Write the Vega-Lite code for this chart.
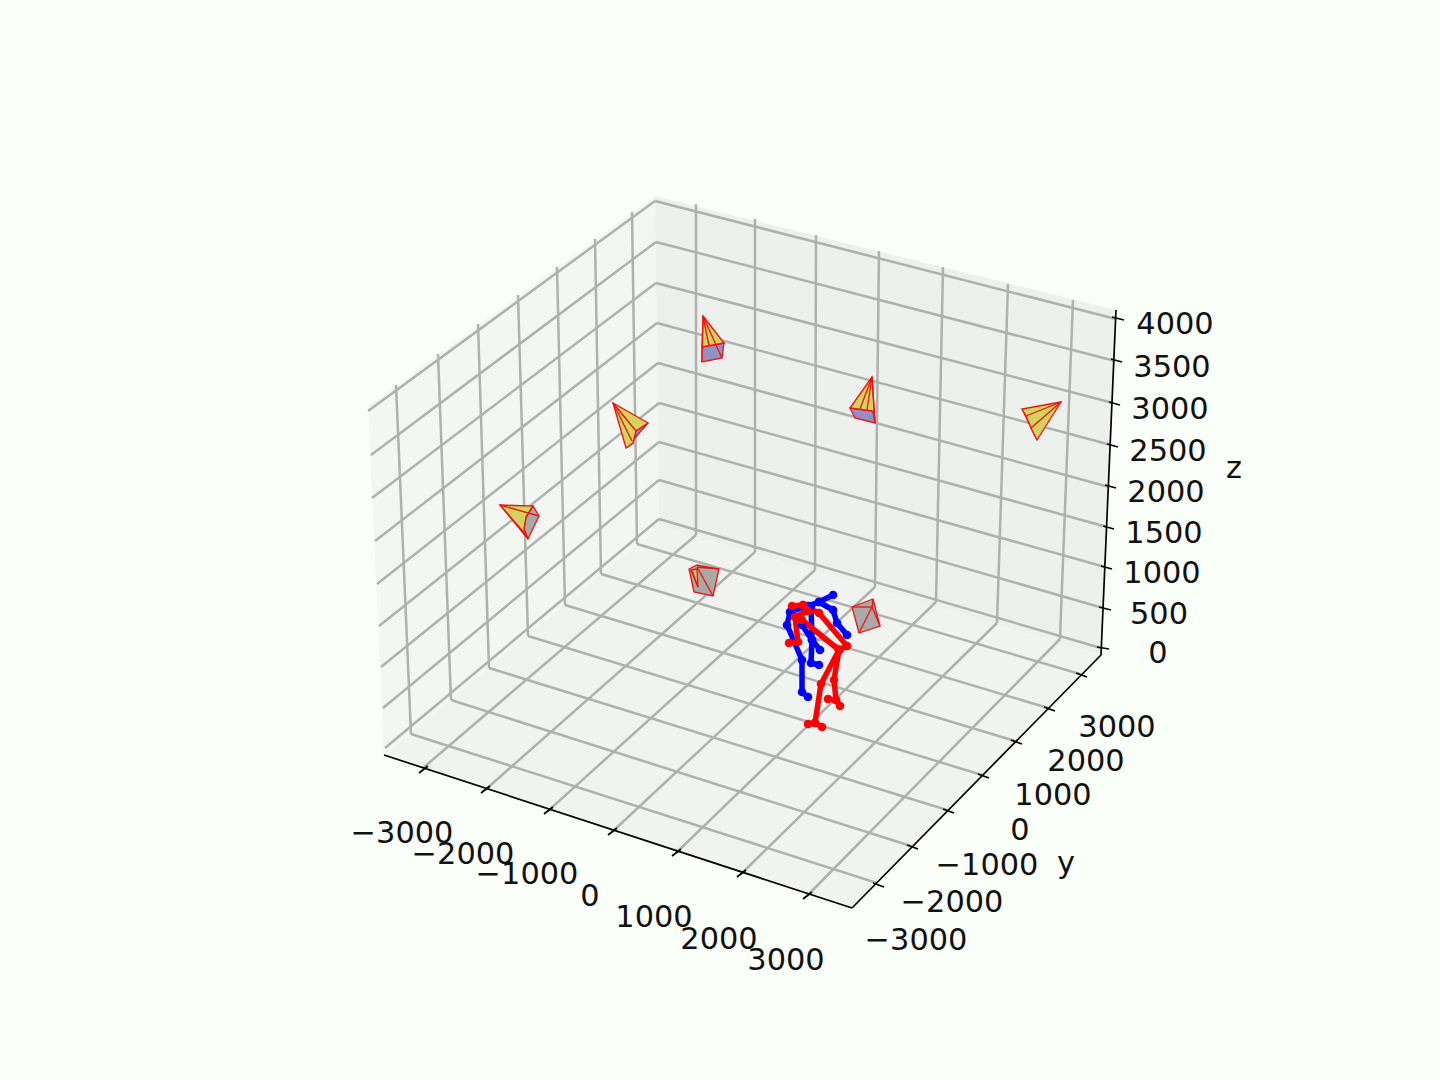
{"$schema":"https://vega.github.io/schema/vega-lite/v6.json","width":1440,"height":1080,"autosize":{"type":"fit","contains":"padding"},"padding":0,"background":"#fbfffa","view":{"stroke":null,"fill":null},
"datasets":{
"panes":[
{"id":"left","s":0,"x":368,"y":406,"f":"left"},{"id":"left","s":1,"x":655,"y":196,"f":"left"},{"id":"left","s":2,"x":659,"y":526,"f":"left"},{"id":"left","s":3,"x":384,"y":755,"f":"left"},
{"id":"back","s":0,"x":655,"y":196,"f":"back"},{"id":"back","s":1,"x":1116,"y":310,"f":"back"},{"id":"back","s":2,"x":1101,"y":655,"f":"back"},{"id":"back","s":3,"x":659,"y":526,"f":"back"},
{"id":"floor","s":0,"x":384,"y":755,"f":"floor"},{"id":"floor","s":1,"x":659,"y":526,"f":"floor"},{"id":"floor","s":2,"x":1101,"y":655,"f":"floor"},{"id":"floor","s":3,"x":852,"y":908,"f":"floor"}],
"grid":[
{"x":385,"y":748,"x2":659,"y2":519},{"x":659,"y":519,"x2":1101,"y2":648},
{"x":383,"y":708,"x2":659,"y2":480},{"x":659,"y":480,"x2":1103,"y2":608},
{"x":381,"y":667,"x2":659,"y2":442},{"x":659,"y":442,"x2":1105,"y2":567},
{"x":379,"y":626,"x2":659,"y2":403},{"x":659,"y":403,"x2":1107,"y2":527},
{"x":377,"y":584,"x2":658,"y2":363},{"x":658,"y":363,"x2":1109,"y2":487},
{"x":375,"y":541,"x2":657,"y2":323},{"x":657,"y":323,"x2":1111,"y2":445},
{"x":372,"y":498,"x2":656,"y2":283},{"x":656,"y":283,"x2":1113,"y2":403},
{"x":371,"y":455,"x2":656,"y2":242},{"x":656,"y":242,"x2":1115,"y2":361},
{"x":368,"y":411,"x2":655,"y2":201},{"x":655,"y":201,"x2":1116,"y2":319},
{"x":396,"y":385,"x2":411,"y2":734},{"x":438,"y":354,"x2":451,"y2":700},{"x":478,"y":324,"x2":489,"y2":668},{"x":518,"y":295,"x2":528,"y2":636},{"x":557,"y":267,"x2":565,"y2":605},{"x":595,"y":239,"x2":601,"y2":574},{"x":632,"y":212,"x2":637,"y2":544},
{"x":696,"y":204,"x2":696,"y2":535},{"x":755,"y":219,"x2":755,"y2":552},{"x":816,"y":235,"x2":815,"y2":570},{"x":879,"y":251,"x2":875,"y2":587},{"x":943,"y":267,"x2":936,"y2":602},{"x":1008,"y":284,"x2":997,"y2":623},{"x":1073,"y":300,"x2":1060,"y2":639},
{"x":411,"y":734,"x2":877,"y2":883},{"x":451,"y":700,"x2":911,"y2":846},{"x":489,"y":668,"x2":947,"y2":810},{"x":528,"y":636,"x2":982,"y2":775},{"x":565,"y":605,"x2":1015,"y2":741},{"x":601,"y":574,"x2":1048,"y2":708},{"x":637,"y":544,"x2":1080,"y2":674},
{"x":423,"y":768,"x2":696,"y2":535},{"x":485,"y":790,"x2":755,"y2":552},{"x":548,"y":811,"x2":815,"y2":570},{"x":612,"y":832,"x2":875,"y2":587},{"x":676,"y":853,"x2":936,"y2":602},{"x":741,"y":874,"x2":997,"y2":623},{"x":807,"y":896,"x2":1060,"y2":639}],
"axes":[
{"x":384,"y":755,"x2":852,"y2":908},{"x":852,"y":908,"x2":1101,"y2":655},{"x":1101,"y":655,"x2":1116,"y2":310},
{"x":419,"y":773,"x2":428,"y2":766},{"x":481,"y":793,"x2":490,"y2":786},{"x":544,"y":814,"x2":553,"y2":807},{"x":608,"y":835,"x2":617,"y2":828},{"x":672,"y":856,"x2":681,"y2":849},{"x":737,"y":877,"x2":746,"y2":870},{"x":803,"y":899,"x2":812,"y2":892},
{"x":873,"y":883,"x2":884,"y2":887},{"x":907,"y":845,"x2":918,"y2":849},{"x":943,"y":809,"x2":954,"y2":813},{"x":978,"y":774,"x2":989,"y2":778},{"x":1011,"y":740,"x2":1022,"y2":744},{"x":1044,"y":707,"x2":1055,"y2":711},{"x":1076,"y":673,"x2":1087,"y2":677},
{"x":1097,"y":647,"x2":1109,"y2":649},{"x":1099,"y":607,"x2":1111,"y2":610},{"x":1101,"y":566,"x2":1112,"y2":569},{"x":1103,"y":526,"x2":1114,"y2":529},{"x":1105,"y":485,"x2":1116,"y2":488},{"x":1107,"y":444,"x2":1118,"y2":447},{"x":1109,"y":402,"x2":1120,"y2":405},{"x":1111,"y":359,"x2":1122,"y2":362},{"x":1112,"y":317,"x2":1124,"y2":320}],
"faces":[
{"id":"a1","s":0,"x":702,"y":347,"k":"blue"},{"id":"a1","s":1,"x":724,"y":343,"k":"blue"},{"id":"a1","s":2,"x":722,"y":358,"k":"blue"},{"id":"a1","s":3,"x":702,"y":362,"k":"blue"},
{"id":"a2","s":0,"x":703,"y":316,"k":"yellow"},{"id":"a2","s":1,"x":724,"y":343,"k":"yellow"},{"id":"a2","s":2,"x":702,"y":347,"k":"yellow"},
{"id":"b1","s":0,"x":850,"y":408,"k":"blue"},{"id":"b1","s":1,"x":855,"y":418,"k":"blue"},{"id":"b1","s":2,"x":875,"y":423,"k":"blue"},{"id":"b1","s":3,"x":873,"y":411,"k":"blue"},
{"id":"b2","s":0,"x":872,"y":377,"k":"yellow"},{"id":"b2","s":1,"x":850,"y":408,"k":"yellow"},{"id":"b2","s":2,"x":873,"y":411,"k":"yellow"},{"id":"b2","s":3,"x":875,"y":423,"k":"yellow"},
{"id":"c1","s":0,"x":1022,"y":409,"k":"blue"},{"id":"c1","s":1,"x":1037,"y":440,"k":"blue"},{"id":"c1","s":2,"x":1032,"y":430,"k":"blue"},{"id":"c1","s":3,"x":1026,"y":416,"k":"blue"},
{"id":"c2","s":0,"x":1061,"y":402,"k":"yellow"},{"id":"c2","s":1,"x":1022,"y":409,"k":"yellow"},{"id":"c2","s":2,"x":1026,"y":416,"k":"yellow"},{"id":"c2","s":3,"x":1032,"y":430,"k":"yellow"},{"id":"c2","s":4,"x":1037,"y":440,"k":"yellow"},
{"id":"d1","s":0,"x":648,"y":423,"k":"blue"},{"id":"d1","s":1,"x":626,"y":448,"k":"blue"},{"id":"d1","s":2,"x":633,"y":443,"k":"blue"},{"id":"d1","s":3,"x":636,"y":431,"k":"blue"},
{"id":"d2","s":0,"x":613,"y":403,"k":"yellow"},{"id":"d2","s":1,"x":648,"y":423,"k":"yellow"},{"id":"d2","s":2,"x":636,"y":431,"k":"yellow"},{"id":"d2","s":3,"x":633,"y":443,"k":"yellow"},{"id":"d2","s":4,"x":626,"y":448,"k":"yellow"},
{"id":"e1","s":0,"x":533,"y":506,"k":"gray"},{"id":"e1","s":1,"x":539,"y":516,"k":"gray"},{"id":"e1","s":2,"x":528,"y":539,"k":"gray"},{"id":"e1","s":3,"x":524,"y":529,"k":"gray"},{"id":"e1","s":4,"x":526,"y":517,"k":"gray"},
{"id":"e2","s":0,"x":500,"y":505,"k":"yellow"},{"id":"e2","s":1,"x":533,"y":506,"k":"yellow"},{"id":"e2","s":2,"x":526,"y":517,"k":"yellow"},{"id":"e2","s":3,"x":524,"y":529,"k":"yellow"},{"id":"e2","s":4,"x":528,"y":539,"k":"yellow"},
{"id":"f1","s":0,"x":689,"y":569,"k":"gray"},{"id":"f1","s":1,"x":697,"y":565,"k":"gray"},{"id":"f1","s":2,"x":719,"y":569,"k":"gray"},{"id":"f1","s":3,"x":713,"y":596,"k":"gray"},{"id":"f1","s":4,"x":694,"y":592,"k":"gray"},
{"id":"f2","s":0,"x":691,"y":570,"k":"yellow"},{"id":"f2","s":1,"x":697,"y":569,"k":"yellow"},{"id":"f2","s":2,"x":698,"y":587,"k":"yellow"},
{"id":"g1","s":0,"x":852,"y":607,"k":"gray"},{"id":"g1","s":1,"x":873,"y":599,"k":"gray"},{"id":"g1","s":2,"x":880,"y":626,"k":"gray"},{"id":"g1","s":3,"x":859,"y":633,"k":"gray"}],
"edges":[
{"x":703,"y":316,"x2":702,"y2":362},{"x":703,"y":316,"x2":709,"y2":346},{"x":703,"y":316,"x2":716,"y2":345},{"x":716,"y":345,"x2":722,"y2":358},
{"x":872,"y":377,"x2":860,"y2":409},{"x":872,"y":377,"x2":867,"y2":410},{"x":872,"y":377,"x2":875,"y2":423},
{"x":1061,"y":402,"x2":1026,"y2":416},{"x":1061,"y":402,"x2":1031,"y2":428},
{"x":613,"y":403,"x2":636,"y2":431},{"x":613,"y":403,"x2":632,"y2":441},
{"x":500,"y":505,"x2":539,"y2":516},{"x":500,"y":505,"x2":526,"y2":535},{"x":526,"y":517,"x2":533,"y2":506},
{"x":697,"y":567,"x2":713,"y2":596},{"x":697,"y":567,"x2":719,"y2":569},{"x":692,"y":571,"x2":698,"y2":587},
{"x":852,"y":607,"x2":872,"y2":607},{"x":873,"y":599,"x2":872,"y2":607},{"x":872,"y":607,"x2":859,"y2":633},{"x":872,"y":607,"x2":880,"y2":626}],
"bones":[
{"id":"b1","s":0,"x":833,"y":595,"c":"blue"},{"id":"b1","s":1,"x":819,"y":602,"c":"blue"},{"id":"b1","s":2,"x":808,"y":606,"c":"blue"},{"id":"b1","s":3,"x":790,"y":612,"c":"blue"},{"id":"b1","s":4,"x":787,"y":625,"c":"blue"},{"id":"b1","s":5,"x":802,"y":660,"c":"blue"},{"id":"b1","s":6,"x":802,"y":692,"c":"blue"},{"id":"b1","s":7,"x":808,"y":697,"c":"blue"},
{"id":"b2","s":0,"x":819,"y":602,"c":"blue"},{"id":"b2","s":1,"x":833,"y":610,"c":"blue"},{"id":"b2","s":2,"x":837,"y":623,"c":"blue"},{"id":"b2","s":3,"x":847,"y":635,"c":"blue"},
{"id":"b3","s":0,"x":811,"y":606,"c":"blue"},{"id":"b3","s":1,"x":812,"y":640,"c":"blue"},{"id":"b3","s":2,"x":811,"y":663,"c":"blue"},{"id":"b3","s":3,"x":819,"y":665,"c":"blue"},
{"id":"b4","s":0,"x":802,"y":625,"c":"blue"},{"id":"b4","s":1,"x":812,"y":640,"c":"blue"},{"id":"b4","s":2,"x":820,"y":650,"c":"blue"},
{"id":"r1","s":0,"x":792,"y":606,"c":"red"},{"id":"r1","s":1,"x":803,"y":605,"c":"red"},{"id":"r1","s":2,"x":808,"y":611,"c":"red"},{"id":"r1","s":3,"x":795,"y":617,"c":"red"},{"id":"r1","s":4,"x":798,"y":642,"c":"red"},{"id":"r1","s":5,"x":789,"y":643,"c":"red"},
{"id":"r2","s":0,"x":803,"y":605,"c":"red"},{"id":"r2","s":1,"x":819,"y":613,"c":"red"},{"id":"r2","s":2,"x":847,"y":646,"c":"red"},{"id":"r2","s":3,"x":839,"y":650,"c":"red"},{"id":"r2","s":4,"x":802,"y":620,"c":"red"},
{"id":"r3","s":0,"x":839,"y":650,"c":"red"},{"id":"r3","s":1,"x":821,"y":684,"c":"red"},{"id":"r3","s":2,"x":815,"y":723,"c":"red"},{"id":"r3","s":3,"x":822,"y":727,"c":"red"},
{"id":"r4","s":0,"x":815,"y":723,"c":"red"},{"id":"r4","s":1,"x":808,"y":724,"c":"red"},
{"id":"r5","s":0,"x":839,"y":650,"c":"red"},{"id":"r5","s":1,"x":834,"y":680,"c":"red"},{"id":"r5","s":2,"x":836,"y":700,"c":"red"},{"id":"r5","s":3,"x":840,"y":706,"c":"red"},
{"id":"r6","s":0,"x":836,"y":700,"c":"red"},{"id":"r6","s":1,"x":828,"y":699,"c":"red"}],
"labels":[
{"t":"4000","x":1175,"y":325},{"t":"3500","x":1172,"y":368},{"t":"3000","x":1170,"y":410},{"t":"2500","x":1168,"y":452},{"t":"2000","x":1166,"y":493},{"t":"1500","x":1164,"y":534},{"t":"1000","x":1162,"y":574},{"t":"500","x":1159,"y":615},{"t":"0","x":1158,"y":654},{"t":"z","x":1234,"y":469},
{"t":"−3000","x":402,"y":834},{"t":"−2000","x":463,"y":855},{"t":"−1000","x":527,"y":875},{"t":"0","x":590,"y":897},{"t":"1000","x":654,"y":918},{"t":"2000","x":719,"y":940},{"t":"3000","x":786,"y":961},
{"t":"−3000","x":916,"y":941},{"t":"−2000","x":952,"y":903},{"t":"−1000","x":987,"y":866},{"t":"0","x":1020,"y":831},{"t":"1000","x":1053,"y":796},{"t":"2000","x":1086,"y":762},{"t":"3000","x":1117,"y":728},{"t":"y","x":1066,"y":864}]},
"encoding":{"x":{"field":"x","type":"quantitative","scale":{"domain":[0,1440],"range":[0,1440],"nice":false,"zero":false},"axis":null},"y":{"field":"y","type":"quantitative","scale":{"domain":[0,1080],"range":[0,1080],"nice":false,"zero":false},"axis":null}},
"layer":[
{"data":{"name":"panes"},"mark":{"type":"line","filled":true,"strokeWidth":0,"interpolate":"linear-closed"},
"encoding":{"order":{"field":"s"},"detail":{"field":"id"},"fill":{"field":"f","type":"nominal","legend":null,"scale":{"domain":["left","back","floor"],"range":["#f3f6f2","#edf0ec","#f0f3ef"]}}}},
{"data":{"name":"grid"},"mark":{"type":"rule","color":"#aeb1ac","strokeWidth":2.5},
"encoding":{"x2":{"field":"x2"},"y2":{"field":"y2"}}},
{"data":{"name":"axes"},"mark":{"type":"rule","color":"#000000","strokeWidth":1.7},
"encoding":{"x2":{"field":"x2"},"y2":{"field":"y2"}}},
{"data":{"name":"faces"},"mark":{"type":"line","filled":true,"stroke":"#f01010","strokeWidth":1.3,"interpolate":"linear-closed"},
"encoding":{"order":{"field":"s"},"detail":{"field":"id"},"fill":{"field":"k","type":"nominal","legend":null,"scale":{"domain":["blue","yellow","gray"],"range":["#8f92c4","#d2d45f","#a9a9a6"]}}}},
{"data":{"name":"edges"},"mark":{"type":"rule","color":"#f01010","strokeWidth":1.3},
"encoding":{"x2":{"field":"x2"},"y2":{"field":"y2"}}},
{"data":{"name":"bones"},"mark":{"type":"line","strokeWidth":5.5,"strokeJoin":"round"},
"encoding":{"order":{"field":"s"},"detail":{"field":"id"},"color":{"field":"c","type":"nominal","legend":null,"scale":{"domain":["blue","red"],"range":["#0000ff","#ff0000"]}}}},
{"data":{"name":"bones"},"mark":{"type":"circle","size":75,"opacity":1},
"encoding":{"color":{"field":"c","type":"nominal","legend":null}}},
{"data":{"name":"labels"},"mark":{"type":"text","font":"DejaVu Sans","fontSize":30.4,"color":"#111111","align":"center","baseline":"middle"},
"encoding":{"text":{"field":"t"}}}
],
"resolve":{"scale":{"fill":"independent"}}}
